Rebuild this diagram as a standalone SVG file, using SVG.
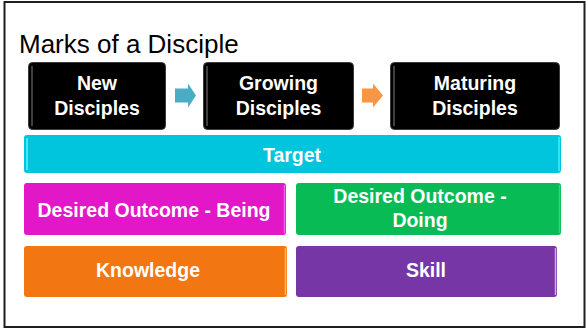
<svg xmlns="http://www.w3.org/2000/svg" width="587" height="329" viewBox="0 0 587 329">
<style>
.lbl{font-family:"Liberation Sans",Arial,sans-serif;font-weight:bold;font-size:19.5px;fill:#fff;text-anchor:middle}
.title{font-family:"Liberation Sans",Arial,sans-serif;font-size:26px;fill:#000}
.blk{fill:#000;stroke:#3a3a3a;stroke-width:1}
.hl{stroke-width:1.5;fill:none}
</style>
<rect x="0" y="0" width="587" height="329" fill="#fff"/>
<rect x="4.5" y="2" width="580" height="325" fill="#fff" stroke="#1e1e1e" stroke-width="2"/>
<text class="title" x="19" y="53">Marks of a Disciple</text>
<g id="new-disciples">
<rect class="blk" x="28.5" y="62.5" width="137" height="67" rx="4"/>
<line class="hl" x1="32" y1="66" x2="32" y2="126" stroke="#555"/>
<text class="lbl" x="97" y="90">New</text>
<text class="lbl" x="97" y="115">Disciples</text>
</g>
<g id="growing-disciples">
<rect class="blk" x="203.5" y="62.5" width="150" height="67" rx="4"/>
<line class="hl" x1="207" y1="66" x2="207" y2="126" stroke="#555"/>
<text class="lbl" x="278.5" y="90">Growing</text>
<text class="lbl" x="278.5" y="115">Disciples</text>
</g>
<g id="maturing-disciples">
<rect class="blk" x="390.5" y="62.5" width="169" height="67" rx="4"/>
<line class="hl" x1="394" y1="66" x2="394" y2="126" stroke="#555"/>
<text class="lbl" x="475" y="90">Maturing</text>
<text class="lbl" x="475" y="115">Disciples</text>
</g>
<g id="connectors">
<polygon points="175,88.5 188,88.5 188,83.5 196,95.5 188,107.5 188,102.5 175,102.5" fill="#4BACC6"/>
<polygon points="362,88.5 373,88.5 373,83.5 383,95.5 373,107.5 373,102.5 362,102.5" fill="#F79646"/>
</g>
<g id="target">
<rect x="24" y="135" width="537" height="38" rx="3" fill="#00C5DC"/>
<line class="hl" x1="27" y1="138" x2="27" y2="170" stroke="#5FF2FF"/>
<line class="hl" x1="559" y1="137" x2="559" y2="171" stroke="#40EEFF"/>
<text class="lbl" x="292" y="162">Target</text>
</g>
<g id="being">
<rect x="24" y="183" width="262" height="52" rx="3" fill="#E217C7"/>
<line class="hl" x1="284.5" y1="185" x2="284.5" y2="233" stroke="#F75CEE"/>
<text class="lbl" x="154" y="217">Desired Outcome - Being</text>
</g>
<g id="doing">
<rect x="296" y="183" width="265" height="52" rx="3" fill="#08BB55"/>
<line class="hl" x1="559.5" y1="185" x2="559.5" y2="233" stroke="#2FD872"/>
<text class="lbl" x="420" y="203">Desired Outcome -</text>
<text class="lbl" x="420" y="227">Doing</text>
</g>
<g id="knowledge">
<rect x="24" y="246" width="263" height="51" rx="3" fill="#F27611"/>
<line class="hl" x1="285.5" y1="248" x2="285.5" y2="295" stroke="#FFC060"/>
<text class="lbl" x="148" y="277">Knowledge</text>
</g>
<g id="skill">
<rect x="296" y="246" width="261" height="51" rx="3" fill="#7636A6"/>
<line class="hl" x1="555.5" y1="248" x2="555.5" y2="295" stroke="#E9A0F5"/>
<text class="lbl" x="426" y="277">Skill</text>
</g>
</svg>
